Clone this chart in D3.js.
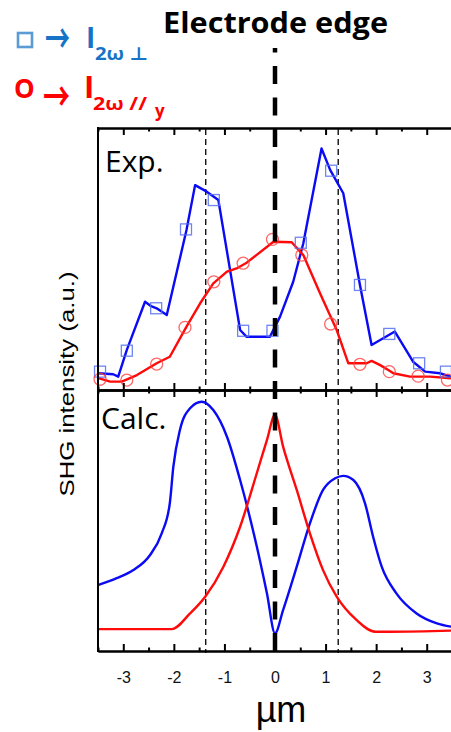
<!DOCTYPE html>
<html><head><meta charset="utf-8">
<script src="https://cdn.jsdelivr.net/npm/d3@7"></script>
<style>body{margin:0;background:#fff}svg{display:block}</style>
</head><body>
<svg id="c" width="451" height="732"></svg>
<script>
// ---- data ----
const xTicks = [-3,-2,-1,0,1,2,3];
const xMinor = [-3.5,-2.5,-1.5,-0.5,0.5,1.5,2.5,3.5];
const edgeX = 0;
const guideX = [-1.37, 1.25];

// Experimental, perpendicular (blue line)
const expPerpX = [-3.49,-3.2,-3.1,-2.93,-2.57,-2.45,-2.34,-2.14,-1.75,-1.58,-1.35,-1.12,-0.69,-0.56,-0.10,0.10,0.36,0.56,0.92,1.09,1.35,1.68,1.91,2.08,2.37,2.73,2.97,3.26,3.48];
const expPerpY = [0.064,0.060,0.051,0.153,0.337,0.320,0.312,0.286,0.611,0.782,0.757,0.725,0.229,0.203,0.203,0.280,0.413,0.560,0.922,0.840,0.751,0.401,0.172,0.191,0.223,0.108,0.070,0.064,0.051];
// Experimental, perpendicular markers (squares)
const markPerpX = [-3.46,-2.93,-2.35,-1.76,-1.21,-0.63,-0.05,0.51,1.11,1.68,2.26,2.85,3.38];
const markPerpY = [0.070,0.150,0.312,0.613,0.725,0.226,0.226,0.562,0.837,0.401,0.214,0.102,0.070];
// Experimental, parallel (red line)
const expParX = [-3.49,-3.26,-3.03,-2.73,-2.34,-2.08,-1.75,-1.48,-1.22,-0.95,-0.76,-0.56,-0.03,0.33,0.56,0.89,1.22,1.45,1.81,1.91,2.08,2.24,2.34,2.67,3.06,3.48];
const expParY = [0.045,0.032,0.032,0.057,0.102,0.127,0.242,0.331,0.407,0.452,0.464,0.486,0.566,0.564,0.515,0.369,0.229,0.102,0.102,0.111,0.095,0.076,0.064,0.051,0.051,0.045];
// Experimental, parallel markers (circles)
const markParX = [-3.46,-2.93,-2.34,-1.78,-1.21,-0.63,-0.05,0.53,1.10,1.68,2.26,2.83,3.41];
const markParY = [0.041,0.038,0.099,0.239,0.413,0.484,0.575,0.515,0.252,0.098,0.070,0.053,0.038];
// Calculated, perpendicular (blue)
const calcPerpX = [-3.49,-3.13,-2.80,-2.47,-2.24,-2.08,-2.01,-1.88,-1.68,-1.45,-1.22,-0.95,-0.69,-0.36,-0.16,0,0.16,0.43,0.69,0.95,1.19,1.35,1.55,1.78,1.94,2.11,2.40,2.80,3.20,3.49];
const calcPerpY = [0.253,0.279,0.310,0.368,0.451,0.566,0.706,0.847,0.930,0.955,0.923,0.821,0.655,0.400,0.221,0.068,0.157,0.323,0.489,0.617,0.662,0.671,0.655,0.566,0.438,0.323,0.221,0.144,0.106,0.093];
// Calculated, parallel (red)
const calcParX = [-3.49,-2.04,-1.68,-1.38,-1.02,-0.69,-0.36,-0.16,0,0.16,0.43,0.69,0.95,1.22,1.61,1.98,2.27,3.49];
const calcParY = [0.084,0.084,0.144,0.208,0.323,0.476,0.681,0.808,0.905,0.783,0.617,0.451,0.310,0.208,0.119,0.074,0.074,0.078];

// ---- scales ----
const svg = d3.select('#c');
const x = d3.scaleLinear().domain([-3.5,3.5]).range([98,452]);
const yTop = d3.scaleLinear().domain([0,1]).range([390,128]);
const yBot = d3.scaleLinear().domain([0,1]).range([651,390]);

const BLUE='#0a0af5', RED='#ff0a0a';
const zip=(a,b)=>a.map((v,i)=>[v,b[i]]);

function line(ys, xs, yv, color, curve){
  svg.append('path').datum(zip(xs,yv))
    .attr('fill','none').attr('stroke',color).attr('stroke-width',2.4)
    .attr('stroke-linejoin','round')
    .attr('d', d3.line().x(d=>x(d[0])).y(d=>ys(d[1])).curve(curve||d3.curveLinear));
}

// guide dashed lines
guideX.forEach(g=>{
  svg.append('line').attr('x1',x(g)).attr('x2',x(g)).attr('y1',129).attr('y2',653)
    .attr('stroke','#111').attr('stroke-width',1.4).attr('stroke-dasharray','6,4');
});

// experimental
line(yTop, expPerpX, expPerpY, BLUE);
line(yTop, expParX, expParY, RED);
svg.append('g').selectAll('rect').data(zip(markPerpX,markPerpY)).join('rect')
  .attr('x',d=>x(d[0])-5.5).attr('y',d=>yTop(d[1])-5.5).attr('width',11).attr('height',11)
  .attr('fill','none').attr('stroke','#5570f0').attr('stroke-opacity',0.85).attr('stroke-width',1.3);
svg.append('g').selectAll('circle').data(zip(markParX,markParY)).join('circle')
  .attr('cx',d=>x(d[0])).attr('cy',d=>yTop(d[1])).attr('r',6)
  .attr('fill','none').attr('stroke','#ff4040').attr('stroke-opacity',0.8).attr('stroke-width',1.3);

// calculated
line(yBot, calcPerpX, calcPerpY, BLUE, d3.curveMonotoneX);
line(yBot, calcParX, calcParY, RED, d3.curveMonotoneX);

// electrode edge thick dashed
svg.append('line').attr('x1',x(edgeX)).attr('x2',x(edgeX)).attr('y1',651).attr('y2',48)
  .attr('stroke','#000').attr('stroke-width',4.5).attr('stroke-dasharray','18,13.5');

// axes
function axis(gen, y, size, vals, labels){
  const a = gen(x).tickValues(vals).tickSize(size).tickSizeOuter(0)
    .tickFormat(labels? (d=>String(d)) : (()=>''));
  if(labels) a.tickPadding(21);
  const g = svg.append('g').attr('transform',`translate(0,${y})`).call(a);
  g.selectAll('.tick line').attr('stroke','#000').attr('stroke-width',2);
  g.select('.domain').attr('stroke','#000').attr('stroke-width',2);
  g.selectAll('text').attr('font-family','Liberation Sans, Arial, sans-serif').attr('font-size',16).attr('fill','#111');
  return g;
}
axis(d3.axisBottom, 651, -7, xTicks, true);
axis(d3.axisBottom, 651, -3.5, xMinor, false);
axis(d3.axisBottom, 390, -7, xTicks, false);
axis(d3.axisBottom, 390, -3.5, xMinor, false);
axis(d3.axisTop, 390, -7, xTicks, false);
axis(d3.axisTop, 390, -3.5, xMinor, false);
axis(d3.axisTop, 128, -7, xTicks, false);
axis(d3.axisTop, 128, -3.5, xMinor, false);
svg.append('line').attr('x1',98).attr('x2',98).attr('y1',127).attr('y2',652).attr('stroke','#000').attr('stroke-width',2);

// texts
const T=(t,xx,yy,o)=>{const e=svg.append('text').attr('x',xx).attr('y',yy).text(t);
  Object.entries(o).forEach(([k,v])=>e.attr(k,v)); return e;};
T('Electrode edge',163,33,{'font-family':'Open Sans, sans-serif','font-weight':700,'font-size':28,'textLength':225,'lengthAdjust':'spacingAndGlyphs'});
T('Exp.',105,172,{'font-family':'Open Sans, sans-serif','font-size':30});
T('Calc.',101,429,{'font-family':'Open Sans, sans-serif','font-size':30});
T('SHG intensity (a.u.)',0,0,{'font-family':'Liberation Sans, Arial, sans-serif','font-size':21,'text-anchor':'middle','textLength':225,'lengthAdjust':'spacingAndGlyphs','transform':'translate(74,384) rotate(-90)'});
T('µm',281,722,{'font-family':'Liberation Sans, Arial, sans-serif','font-size':36,'text-anchor':'middle'});

// legend
const LB='#1673c6', LR='#ff0000';
svg.append('rect').attr('x',18).attr('y',33).attr('width',14).attr('height',14).attr('fill','none').attr('stroke','#5b9bd5').attr('stroke-width',2.6);
T('→',45,53,{'font-family':'Noto Sans CJK SC, sans-serif','font-weight':700,'font-size':40,'fill':LB,'textLength':25,'lengthAdjust':'spacingAndGlyphs'});
T('I',86,48,{'font-family':'Open Sans, sans-serif','font-weight':700,'font-size':28,'fill':LB});
T('2ω ⊥',95,60,{'font-family':'Open Sans, DejaVu Sans, sans-serif','font-weight':700,'font-size':18,'fill':LB,'textLength':53,'lengthAdjust':'spacingAndGlyphs'});
T('O',14,98,{'font-family':'Open Sans, sans-serif','font-weight':700,'font-size':26,'fill':LR});
T('→',43,111,{'font-family':'Noto Sans CJK SC, sans-serif','font-weight':700,'font-size':40,'fill':LR,'textLength':27,'lengthAdjust':'spacingAndGlyphs'});
T('I',84,98,{'font-family':'Open Sans, sans-serif','font-weight':700,'font-size':31,'fill':LR});
T('2ω //',93,110,{'font-family':'Open Sans, DejaVu Sans, sans-serif','font-weight':700,'font-size':18,'fill':LR,'textLength':54,'lengthAdjust':'spacingAndGlyphs'});
T('y',155,117,{'font-family':'Open Sans, sans-serif','font-weight':700,'font-size':17,'fill':LR});
</script>
</body></html>
